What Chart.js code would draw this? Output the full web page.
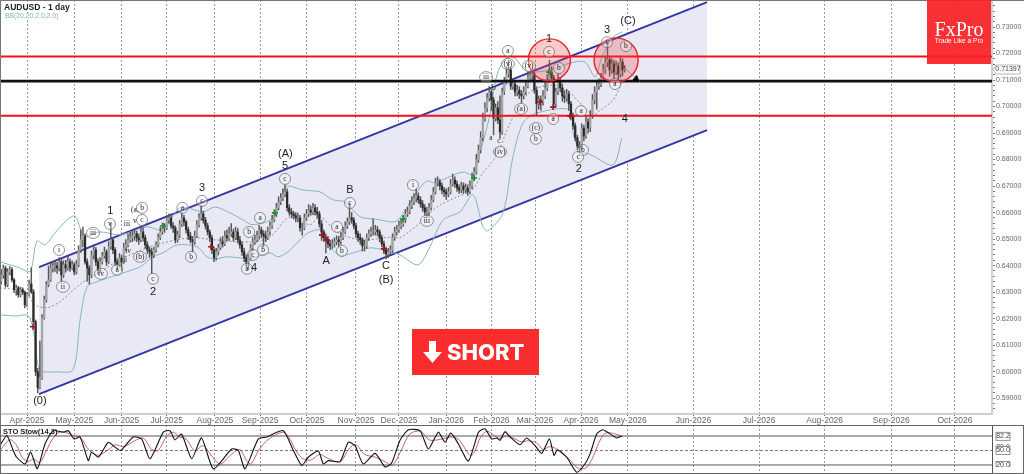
<!DOCTYPE html>
<html>
<head>
<meta charset="utf-8">
<title>AUDUSD - 1 day</title>
<script src="https://cdn.jsdelivr.net/npm/chart.js@4"></script>
<style>
  html, body { margin: 0; background: #fff; }
  #page { position: relative; width: 1024px; height: 474px; overflow: hidden; font-family: "Liberation Sans", sans-serif; }
  canvas { position: absolute; left: 0; }
  .frame { position: absolute; pointer-events: none; box-sizing: border-box; }
  .note { position: absolute; white-space: nowrap; background: #fff; line-height: 1; }
  #logo { position: absolute; left: 927px; top: 0; width: 64px; height: 64px; background: rgba(249, 30, 35, 0.92); color: #fff; text-align: center; }
  #logo b { position: absolute; left: 0; right: 0; top: 18px; font: 20px "Liberation Serif", serif; }
  #logo i { position: absolute; left: 0; right: 0; top: 37px; font: normal 6.6px "Liberation Sans", sans-serif; }
  #short { position: absolute; left: 412px; top: 329px; width: 127px; height: 46px; background: #f92c2e; color: #fff; font: 800 22px Inter, sans-serif; }
  #short span { position: absolute; left: 35px; top: 10px; line-height: 26px; }
  #short svg { position: absolute; left: 11px; top: 12px; }
</style>
</head>
<body>
<div id="page">
  <canvas id="price-chart" width="1024" height="425" style="top:0"></canvas>
  <canvas id="sto-chart" width="1024" height="49" style="top:425px"></canvas>
  <div class="frame" style="left:0;top:0;width:1024px;height:425px;border-top:1px solid #777;border-left:1px solid #777"></div>
  <div class="frame" style="left:0;top:425px;width:1024px;height:49px;border:1px solid #666"></div>
  <div class="note" style="left:4px;top:3px;font-size:8.5px;font-weight:bold;color:#222">AUDUSD - 1 day</div>
  <div class="note" style="left:5px;top:13px;font-size:6.8px;color:#7fb5bd">BB(20,20,2.0,2.0)</div>
  <div class="note" style="left:3px;top:428px;font-size:7.5px;font-weight:bold;color:#222;background:none">STO Slow(14,3)</div>
  <div id="logo"><b>FxPro</b><i>Trade Like a Pro</i></div>
  <div id="short">
    <svg width="19" height="22" viewBox="0 0 19 22"><path d="M6 0h7v11h6L9.500 22 0 11h6z" fill="#fff"/></svg>
    <span>SHORT</span>
  </div>
</div>
<script>
// AUDUSD daily bars. Bar 0 is the first bar of Apr-2025.
const firstBar = -12;
const barOpen = [
  .6340,.6364,.6390,.6327,.6376,.6384,.6346,.6309,.6316,.6290,
  .6309,.6299,.6252,.6290,.6331,.6301,.6188,.6000,.5939,.5977,
  .6203,.6271,.6327,.6346,.6391,.6399,.6399,.6391,.6414,.6365,
  .6403,.6391,.6414,.6391,.6403,.6376,.6403,.6459,.6497,.6512,
  .6414,.6391,.6365,.6440,.6459,.6414,.6384,.6414,.6437,.6452,
  .6414,.6472,.6497,.6459,.6414,.6403,.6429,.6414,.6467,.6478,
  .6497,.6505,.6512,.6520,.6505,.6497,.6527,.6505,.6478,.6459,
  .6452,.6440,.6459,.6478,.6505,.6527,.6542,.6542,.6572,.6580,
  .6550,.6542,.6497,.6516,.6557,.6580,.6565,.6535,.6512,.6497,
  .6490,.6512,.6554,.6580,.6595,.6572,.6550,.6527,.6505,.6459,
  .6429,.6452,.6467,.6490,.6482,.6512,.6505,.6520,.6527,.6505,
  .6527,.6497,.6478,.6452,.6429,.6414,.6429,.6467,.6490,.6497,
  .6512,.6535,.6520,.6512,.6505,.6527,.6550,.6572,.6595,.6618,
  .6640,.6655,.6670,.6678,.6618,.6602,.6595,.6588,.6580,.6580,
  .6542,.6542,.6580,.6595,.6610,.6602,.6618,.6602,.6595,.6557,
  .6527,.6505,.6497,.6482,.6475,.6482,.6490,.6497,.6490,.6505,
  .6527,.6550,.6565,.6580,.6572,.6550,.6520,.6505,.6497,.6474,
  .6474,.6505,.6520,.6527,.6527,.6535,.6527,.6505,.6482,.6459,
  .6444,.6452,.6459,.6505,.6527,.6535,.6550,.6557,.6572,.6595,
  .6602,.6625,.6640,.6655,.6663,.6648,.6633,.6618,.6602,.6602,
  .6618,.6648,.6678,.6712,.6716,.6701,.6685,.6678,.6670,.6678,
  .6708,.6723,.6708,.6693,.6685,.6701,.6685,.6693,.6678,.6701,
  .6731,.6753,.6799,.6836,.6882,.6957,.6995,.7032,.7055,.7025,
  .6957,.6995,.6949,.6904,.7055,.7092,.7123,.7138,.7077,.7085,
  .7055,.7062,.7047,.7040,.7055,.7077,.7108,.7115,.7123,.7062,
  .7010,.7025,.7017,.7040,.7070,.7100,.7130,.7108,.7010,.7055,
  .7092,.7070,.7040,.7032,.7047,.7010,.6964,.6927,.6882,.6851,
  .6844,.6919,.6889,.6942,.6919,.6964,.7025,.7055,.7078,.7085,
  .7108,.7138,.7168,.7176,.7138,.7161,.7130,.7153,.7123,.7168,
  .7138
];
const barHigh = [
  .6385,.6402,.6398,.6388,.6396,.6392,.6352,.6326,.6322,.6318,
  .6316,.6305,.6298,.6345,.6392,.6310,.6195,.6012,.6115,.6215,
  .6285,.6340,.6398,.6408,.6415,.6418,.6412,.6430,.6425,.6418,
  .6420,.6438,.6425,.6418,.6412,.6420,.6475,.6535,.6545,.6520,
  .6425,.6400,.6455,.6478,.6468,.6425,.6430,.6450,.6470,.6460,
  .6490,.6560,.6505,.6468,.6425,.6445,.6440,.6485,.6498,.6520,
  .6525,.6530,.6538,.6530,.6520,.6548,.6542,.6515,.6490,.6470,
  .6465,.6470,.6490,.6520,.6545,.6560,.6558,.6590,.6595,.6590,
  .6562,.6550,.6530,.6570,.6598,.6590,.6572,.6545,.6525,.6510,
  .6530,.6570,.6596,.6625,.6605,.6582,.6560,.6535,.6515,.6470,
  .6465,.6480,.6505,.6510,.6530,.6535,.6545,.6558,.6538,.6545,
  .6540,.6510,.6490,.6465,.6440,.6445,.6480,.6505,.6515,.6530,
  .6552,.6545,.6532,.6530,.6545,.6565,.6590,.6610,.6635,.6660,
  .6672,.6690,.6705,.6690,.6630,.6615,.6605,.6600,.6598,.6590,
  .6560,.6595,.6612,.6630,.6625,.6635,.6630,.6620,.6605,.6570,
  .6535,.6520,.6510,.6495,.6498,.6505,.6512,.6510,.6525,.6545,
  .6565,.6580,.6635,.6600,.6582,.6560,.6530,.6520,.6505,.6495,
  .6520,.6535,.6545,.6575,.6552,.6548,.6535,.6515,.6492,.6470,
  .6465,.6475,.6520,.6545,.6552,.6568,.6575,.6590,.6612,.6620,
  .6645,.6660,.6672,.6690,.6675,.6660,.6645,.6630,.6620,.6635,
  .6665,.6695,.6730,.6735,.6725,.6712,.6695,.6690,.6695,.6725,
  .6745,.6735,.6720,.6705,.6715,.6712,.6708,.6705,.6720,.6750,
  .6770,.6820,.6855,.6905,.6975,.7015,.7050,.7075,.7065,.7035,
  .7010,.7020,.7040,.7070,.7110,.7150,.7175,.7148,.7105,.7095,
  .7080,.7075,.7060,.7075,.7095,.7130,.7135,.7140,.7130,.7075,
  .7040,.7040,.7060,.7090,.7120,.7175,.7150,.7118,.7070,.7125,
  .7110,.7085,.7060,.7065,.7058,.7020,.6975,.6938,.6892,.6868,
  .6935,.6930,.6962,.6955,.6985,.7045,.7075,.7100,.7105,.7125,
  .7160,.7190,.7245,.7190,.7180,.7175,.7172,.7165,.7190,.7180,
  .7155
];
const barLow = [
  .6330,.6352,.6318,.6320,.6365,.6338,.6298,.6288,.6280,.6282,
  .6290,.6240,.6246,.6285,.6295,.6180,.5985,.5920,.5935,.5970,
  .6198,.6262,.6320,.6340,.6375,.6378,.6370,.6380,.6340,.6355,
  .6375,.6382,.6378,.6385,.6365,.6368,.6395,.6450,.6470,.6405,
  .6340,.6330,.6355,.6425,.6400,.6368,.6375,.6405,.6428,.6400,
  .6408,.6462,.6445,.6400,.6385,.6395,.6380,.6408,.6455,.6470,
  .6488,.6490,.6495,.6490,.6480,.6490,.6492,.6465,.6445,.6430,
  .6370,.6430,.6450,.6470,.6498,.6518,.6525,.6535,.6560,.6540,
  .6525,.6485,.6488,.6505,.6548,.6550,.6522,.6498,.6485,.6452,
  .6480,.6505,.6545,.6570,.6560,.6538,.6515,.6490,.6445,.6415,
  .6420,.6440,.6460,.6470,.6475,.6492,.6495,.6510,.6492,.6498,
  .6485,.6465,.6438,.6415,.6395,.6385,.6420,.6455,.6480,.6488,
  .6500,.6505,.6470,.6490,.6498,.6515,.6540,.6565,.6585,.6610,
  .6630,.6645,.6660,.6605,.6590,.6580,.6575,.6565,.6565,.6530,
  .6515,.6535,.6570,.6585,.6590,.6592,.6590,.6580,.6545,.6495,
  .6490,.6448,.6468,.6460,.6465,.6470,.6478,.6470,.6480,.6498,
  .6520,.6540,.6555,.6560,.6538,.6505,.6490,.6480,.6455,.6455,
  .6465,.6495,.6510,.6515,.6515,.6512,.6490,.6470,.6445,.6425,
  .6430,.6440,.6450,.6495,.6515,.6525,.6538,.6548,.6562,.6585,
  .6595,.6615,.6630,.6640,.6635,.6620,.6605,.6590,.6585,.6590,
  .6610,.6640,.6670,.6700,.6685,.6670,.6660,.6650,.6660,.6670,
  .6700,.6695,.6680,.6672,.6675,.6672,.6675,.6665,.6670,.6690,
  .6720,.6745,.6790,.6825,.6870,.6945,.6980,.7020,.6985,.6893,
  .6945,.6935,.6880,.6895,.7045,.7085,.7110,.7065,.7065,.7040,
  .7040,.7030,.7015,.7030,.7045,.7070,.7095,.7100,.7050,.6965,
  .6990,.6985,.7005,.7030,.7060,.7090,.7095,.6995,.7000,.7045,
  .7055,.7020,.7015,.7020,.6985,.6950,.6915,.6870,.6838,.6825,
  .6838,.6870,.6880,.6900,.6905,.6955,.7010,.6990,.7065,.7075,
  .7095,.7125,.7150,.7115,.7125,.7105,.7120,.7100,.7110,.7115,
  .7130
];
const barClose = [
  .6364,.6390,.6327,.6376,.6384,.6346,.6309,.6316,.6290,.6309,
  .6299,.6252,.6290,.6331,.6301,.6188,.6000,.5939,.5977,.6203,
  .6271,.6327,.6346,.6391,.6399,.6399,.6391,.6414,.6365,.6403,
  .6391,.6414,.6391,.6403,.6376,.6403,.6459,.6497,.6512,.6414,
  .6391,.6365,.6440,.6459,.6414,.6384,.6414,.6437,.6452,.6414,
  .6472,.6497,.6459,.6414,.6403,.6429,.6414,.6467,.6478,.6497,
  .6505,.6512,.6520,.6505,.6497,.6527,.6505,.6478,.6459,.6452,
  .6440,.6459,.6478,.6505,.6527,.6542,.6542,.6572,.6580,.6550,
  .6542,.6497,.6516,.6557,.6580,.6565,.6535,.6512,.6497,.6490,
  .6512,.6554,.6580,.6595,.6572,.6550,.6527,.6505,.6459,.6429,
  .6452,.6467,.6490,.6482,.6512,.6505,.6520,.6527,.6505,.6527,
  .6497,.6478,.6452,.6429,.6414,.6429,.6467,.6490,.6497,.6512,
  .6535,.6520,.6512,.6505,.6527,.6550,.6572,.6595,.6618,.6640,
  .6655,.6670,.6678,.6618,.6602,.6595,.6588,.6580,.6580,.6542,
  .6542,.6580,.6595,.6610,.6602,.6618,.6602,.6595,.6557,.6527,
  .6505,.6497,.6482,.6475,.6482,.6490,.6497,.6490,.6505,.6527,
  .6550,.6565,.6580,.6572,.6550,.6520,.6505,.6497,.6474,.6474,
  .6505,.6520,.6527,.6527,.6535,.6527,.6505,.6482,.6459,.6444,
  .6452,.6459,.6505,.6527,.6535,.6550,.6557,.6572,.6595,.6602,
  .6625,.6640,.6655,.6663,.6648,.6633,.6618,.6602,.6602,.6618,
  .6648,.6678,.6712,.6716,.6701,.6685,.6678,.6670,.6678,.6708,
  .6723,.6708,.6693,.6685,.6701,.6685,.6693,.6678,.6701,.6731,
  .6753,.6799,.6836,.6882,.6957,.6995,.7032,.7055,.7025,.6957,
  .6995,.6949,.6904,.7055,.7092,.7123,.7138,.7077,.7085,.7055,
  .7062,.7047,.7040,.7055,.7077,.7108,.7115,.7123,.7062,.7010,
  .7025,.7017,.7040,.7070,.7100,.7130,.7108,.7010,.7055,.7092,
  .7070,.7040,.7032,.7047,.7010,.6964,.6927,.6882,.6851,.6844,
  .6919,.6889,.6942,.6919,.6964,.7025,.7055,.7078,.7085,.7108,
  .7138,.7168,.7176,.7138,.7161,.7130,.7153,.7123,.7168,.7138,
  .71397
];

// Bollinger bands, sampled along the drawn curves
const bbUpperBar = [-12.6,-4.7,1.4,2.3,4.7,8.4,13,18.6,22.3,24.7,26,34,43.3,55.8,63.3,71.2,81.9,87.4,94.4,100.5,105.1,114.4,120.5,128.4,136.3,142.3,147.9,154.9,161.9,171.2,174.4,181.4,186,189.8,195.3,202.8,207.4,209.8,215.3,217.7,220,223.7,227,230.7,234,243.3,252.6,259.5,264.2,267.4,272.6,276.7];
const bbUpper = [.6414,.6395,.6376,.6395,.6493,.6478,.6523,.6572,.6587,.6542,.6508,.6527,.6516,.6546,.6535,.6618,.6603,.6621,.6599,.6572,.6554,.6580,.6697,.6685,.6678,.6648,.6640,.6584,.6576,.6565,.6591,.6678,.6719,.6712,.6731,.6753,.6742,.6799,.6968,.7089,.7149,.7187,.7183,.7145,.7130,.7138,.7164,.7168,.7112,.7187,.7262,.7281];
const bbMiddleBar = [-12.6,-0.9,3.7,9.3,15.3,20,25.6,34,43.3,57.2,75.8,87.4,103.7,113,122.3,131.6,136.3,144.2,154.9,170.2,173.5,182.8,190.7,200,207,212.1,218.6,223.3,227.9,234,243.3,251.2,257.2,263.3,265.6,272.6,277.2];
const bbMiddle = [.6316,.6301,.6252,.6241,.6263,.6297,.6335,.6376,.6422,.6471,.6505,.6497,.6489,.6508,.6584,.6554,.6584,.6527,.6497,.6508,.6505,.6561,.6621,.6659,.6685,.6750,.6817,.6912,.6987,.7055,.7081,.7062,.7013,.6968,.6980,.7025,.7100];
const bbLowerBar = [-12.6,-4.7,-0.9,1.4,3.7,6,14,21.4,24.7,27.9,32.6,41.9,52.6,58.6,63.3,69.8,79.1,83.7,87.4,93,99.1,105.1,113,116.7,121.4,126,130.7,137.7,139.5,145.6,153.5,159.5,165.6,173.5,181.9,187.4,193.5,201.4,207.4,212.1,214.4,221.4,226,230.7,237.2,252.6,254,257.2,263.3,272.6,276.7];
const bbLower = [.6214,.6210,.6214,.6203,.6120,.6007,.5999,.6007,.6195,.6320,.6339,.6365,.6395,.6433,.6448,.6478,.6471,.6433,.6425,.6433,.6429,.6429,.6448,.6433,.6452,.6489,.6523,.6535,.6486,.6440,.6452,.6467,.6459,.6440,.6403,.6471,.6572,.6603,.6667,.6546,.6531,.6599,.6810,.6938,.6976,.6987,.6900,.6836,.6814,.6780,.6882];

// Trend channel and horizontal levels
const channelBar = [5.6, 316.3];
const channelUpper = [.6394, .7394];
const channelLower = [.5915, .6911];
const resistanceLevel = .7189;
const pivotLevel = .7096;
const supportLevel = .6965;
const lastPrice = .71397;

// Month ticks along the time axis
const monthBars = [0,22,44,65,87.4,108.4,130.2,153,173,195,216,236.3,257.7,279.5,310,340.5,371,402,431.6];
const monthLabels = ["Apr-2025","May-2025","Jun-2025","Jul-2025","Aug-2025","Sep-2025","Oct-2025","Nov-2025","Dec-2025","Jan-2026","Feb-2026","Mar-2026","Apr-2026","May-2026","Jun-2026","Jul-2026","Aug-2026","Sep-2026","Oct-2026"];
const priceLabels = ["0.59000","0.60000","0.61000","0.62000","0.63000","0.64000","0.65000","0.66000","0.67000","0.68000","0.69000","0.70000","0.71000","0.72000","0.73000"];

// Signal marks and highlighted zones
const buyBar = [63.3, 115.3, 174.9, 207.9, 242.8];
const buyPrice = [.6550, .6599, .6576, .6731, .7130];
const sellBar = [2.8, 85.6, 137.2, 139.5, 166, 238.6, 244.7, 252.6];
const sellPrice = [.6169, .6471, .6516, .6497, .6463, .7017, .6998, .6964];
const zoneBar = [243, 274];
const zonePrice = [.7176, .7176];
const forecastBar = [278.1, 285.1];
const forecastPrice = [.7145, .7093];

// Elliott wave labels
const mainWaveText = ["(A)","5","3","1","2","4","A","B","C","(B)","(0)","2","4","1","3","(C)"];
const mainWaveBar = [120.2,120,81.4,38.8,58.6,105.6,139.1,150.2,167,167,6,256.7,278.1,242.8,269.8,279.5];
const mainWavePrice = [.6821,.6776,.6693,.6606,.6301,.6391,.6418,.6685,.6399,.6346,.5890,.6765,.6953,.7255,.7289,.7323];
const ringWaveText = ["c","c","a","v","b","c","iii","a","b","i","ii","iv","a","(b)","c","b","a","c","b","a","b","c","i","iii","(iv)","(a)","(c)","b","a","a","b","c","iii","a","(v)","(v)","c","b","c","b","a"];
const ringWaveBar = [120,81.4,72.3,38.6,53.5,53.5,30.7,108.4,103.3,14.9,16.7,34.4,41.9,52.6,58.6,76.3,102.3,105.1,109.8,144.2,146.5,150.2,179.5,186,220,229.8,236.7,236.7,244.7,257.7,258.6,256.3,213.5,223.7,223.7,233.5,242.8,247.4,269.8,278.6,273.5];
const ringWavePrice = [.6727,.6644,.6618,.6557,.6618,.6572,.6523,.6580,.6527,.6459,.6320,.6369,.6384,.6433,.6350,.6433,.6388,.6440,.6459,.6546,.6455,.6636,.6704,.6569,.6829,.6991,.6919,.6878,.6953,.6983,.6836,.6810,.7111,.7210,.7161,.7153,.7206,.7145,.7243,.7228,.7085];
const minorWaveText = ["iii","(a,","v","iv","ii","a","c","b"];
const minorWaveBar = [46.5,50.2,50.2,47,45.6,215.8,219.5,217.2];
const minorWavePrice = [.6557,.6610,.6569,.6456,.6422,.6882,.6870,.7070];

// Stochastic oscillator
const stoKBar = [-12.6,-9.4,-6.4,-4.8,-0.9,1.7,4.8,8.4,12.2,16.9,19.2,21.9,24.7,28.5,30.1,33.2,37.8,40.9,43.6,49.4,53.3,57.2,63.4,66.5,68.8,71.9,76.6,81.2,86.7,95.2,98.3,101.4,107.6,111.5,119.2,123.9,127.8,130.8,135.5,137.8,140.2,145.6,149.4,152.6,156.4,161.9,166.5,169.6,173.5,177.4,182.8,186.7,191.3,194.4,197.1,200.6,205.3,210,213,216.1,218.5,220,222.3,224.7,229.3,232.4,236.3,239.4,243,245.1,246.7,251,255.7,259.5,261.9,265,267.8,274.3,276.6];
const stoK = [60,81,50,36,22,47,12,64,91,88,91,74,78,29,47,36,67,57,50,78,74,33,88,91,72,84,33,76,12,53,50,12,74,78,91,50,19,36,49,22,29,27,67,60,22,44,16,24,71,93,91,53,88,67,86,64,28,88,95,74,76,71,89,78,62,76,60,44,74,40,51,36,5,22,43,84,93,76,80];
const stoDBar = [-12.6,-8,-5,-2,1,3,6,9,12,15,19,22,25,29,33,38,41,45,50,54,58,61,65,68,71,74,78,82,86,90,95,99,102,104,108,112,119,122,125,128,132,136,139,143,146,150,153,157,162,166,170,174,178,183,187,191,195,198,201,206,208,211,214,217,220,223,226,230,233,237,240,243,246,249,253,256,260,263,266,269,274,277];
const stoD = [50,72,62,34,28,32,25,50,75,88,86,80,76,50,40,52,62,58,70,76,52,50,80,88,78,74,50,60,38,22,42,52,30,22,52,72,88,76,50,34,30,42,36,28,27,55,62,42,36,28,20,50,84,90,72,72,76,78,72,40,46,78,90,82,75,80,76,68,70,66,52,58,54,46,28,14,14,34,66,86,84,78];
const stoLevels = [20, 50, 80];
const stoTagText = ["82.2", "80.0", "50.0", "20.0"];
const stoTagValue = [79.4, 58, 50, 19];

const pairs = (xs, ys) => xs.map((x, i) => ({ x, y: ys[i] }));
const xMin = -12.56;
const xMax = 448.84;
const gridColor = "#9a9a9a";

// Keep the plot flush with the canvas edges: no room reserved for overhanging labels
function noOverhang(scale) {
  scale.paddingLeft = 0;
  scale.paddingRight = 0;
  scale.paddingTop = 0;
  scale.paddingBottom = 0;
}

function timeScale(showLabels) {
  return {
    type: "linear",
    min: xMin,
    max: xMax,
    offset: false,
    afterBuildTicks(scale) {
      scale.ticks = monthBars.map((value) => ({ value }));
    },
    afterFit(scale) {
      scale.height = showLabels ? 11 : 0;
      noOverhang(scale);
    },
    grid: { color: gridColor, offset: false, tickLength: showLabels ? 2 : 0, tickColor: "#666" },
    border: { color: "#cfcfcf", width: showLabels ? 2 : 0, dash: [2, 2] },
    ticks: {
      display: showLabels,
      autoSkip: false,
      maxRotation: 0,
      padding: 0,
      color: "#666",
      font: { family: "Liberation Sans", size: 8.5 },
      callback: (value, i) => monthLabels[i],
    },
  };
}

function bandLine(xs, ys, dashed) {
  return {
    type: "line",
    data: pairs(xs, ys),
    borderColor: dashed ? "#666" : "#84b6be",
    borderWidth: dashed ? 0.7 : 1,
    borderDash: dashed ? [2, 2] : [],
    pointRadius: 0,
    tension: 0.3,
    order: 40,
  };
}

function levelLine(price, color, width) {
  return {
    type: "line",
    data: pairs([xMin, xMax], [price, price]),
    borderColor: color,
    borderWidth: width,
    pointRadius: 0,
    order: 20,
  };
}

function signalMarks(xs, ys, color) {
  return {
    type: "line",
    showLine: false,
    data: pairs(xs, ys),
    pointStyle: "cross",
    pointRadius: 3,
    pointBorderWidth: 1.6,
    pointBorderColor: color,
    order: 5,
  };
}

// Ring, plain and small serif wave labels, plus the last price tag
const waveLabels = {
  id: "waveLabels",
  afterDatasetsDraw(chart) {
    const { ctx, scales } = chart;
    ctx.save();
    ctx.textAlign = "center";
    ctx.textBaseline = "middle";

    ringWaveText.forEach((text, i) => {
      const x = scales.x.getPixelForValue(ringWaveBar[i]);
      const y = scales.y.getPixelForValue(ringWavePrice[i]);
      ctx.beginPath();
      ctx.ellipse(x, y, text.length > 1 ? 6.5 : 5.5, 5.5, 0, 0, Math.PI * 2);
      ctx.fillStyle = "rgba(255,255,255,0.3)";
      ctx.fill();
      ctx.strokeStyle = "#666";
      ctx.lineWidth = 0.7;
      ctx.stroke();
      ctx.fillStyle = "#222";
      ctx.font = "7.5px 'Liberation Serif'";
      ctx.fillText(text, x, y);
    });

    ctx.fillStyle = "#222";
    ctx.font = "11px 'Liberation Sans'";
    mainWaveText.forEach((text, i) => {
      ctx.fillText(text, scales.x.getPixelForValue(mainWaveBar[i]), scales.y.getPixelForValue(mainWavePrice[i]));
    });

    ctx.font = "7.5px 'Liberation Serif'";
    minorWaveText.forEach((text, i) => {
      ctx.fillText(text, scales.x.getPixelForValue(minorWaveBar[i]), scales.y.getPixelForValue(minorWavePrice[i]));
    });

    // last price tag on the axis
    const tagY = scales.y.getPixelForValue(lastPrice);
    ctx.beginPath();
    ctx.moveTo(993, tagY);
    ctx.lineTo(996, tagY - 4.5);
    ctx.lineTo(1020, tagY - 4.5);
    ctx.lineTo(1020, tagY + 4.5);
    ctx.lineTo(996, tagY + 4.5);
    ctx.closePath();
    ctx.fillStyle = "#fff";
    ctx.fill();
    ctx.strokeStyle = "#999";
    ctx.stroke();
    ctx.fillStyle = "#444";
    ctx.font = "7px 'Liberation Sans'";
    ctx.fillText(lastPrice.toFixed(5), 1008, tagY);
    ctx.restore();
  },
};

// Boxed values beside the oscillator, cut off at the axis end like the original
const stoTags = {
  id: "stoTags",
  afterDatasetsDraw(chart) {
    const { ctx, scales } = chart;
    ctx.save();
    ctx.beginPath();
    ctx.rect(992, 0, 32, 42);
    ctx.clip();
    ctx.textAlign = "center";
    ctx.textBaseline = "middle";
    ctx.font = "7px 'Liberation Sans'";
    stoTagText.forEach((text, i) => {
      const y = scales.y.getPixelForValue(stoTagValue[i]);
      if (text !== "80.0") {
        ctx.fillStyle = "#fff";
        ctx.fillRect(996, y - 4, 14, 8);
        ctx.strokeStyle = "#777";
        ctx.lineWidth = 0.8;
        ctx.strokeRect(996, y - 4, 14, 8);
      }
      ctx.fillStyle = "#444";
      ctx.fillText(text, 1003, y);
    });
    ctx.restore();
  },
};

new Chart(document.getElementById("price-chart"), {
  type: "bar",
  plugins: [waveLabels],
  data: {
    datasets: [
      {
        type: "line",
        data: pairs(channelBar, channelUpper),
        borderColor: "#3535a5",
        borderWidth: 2,
        pointRadius: 0,
        fill: "+1",
        backgroundColor: "#e8e9f5",
        order: 50,
      },
      {
        type: "line",
        data: pairs(channelBar, channelLower),
        borderColor: "#3535a5",
        borderWidth: 2,
        pointRadius: 0,
        order: 49,
      },
      bandLine(bbUpperBar, bbUpper, false),
      bandLine(bbLowerBar, bbLower, false),
      bandLine(bbMiddleBar, bbMiddle, true),
      {
        type: "bar",
        grouped: false,
        data: barLow.map((low, i) => ({ x: firstBar + i, y: [low, barHigh[i]] })),
        backgroundColor: "#555",
        barThickness: 0.8,
        order: 31,
      },
      {
        type: "bar",
        grouped: false,
        data: barOpen.map((open, i) => ({ x: firstBar + i, y: [open, barClose[i]] })),
        backgroundColor: barOpen.map((open, i) => (barClose[i] >= open ? "#a4a4a4" : "#2a2a2a")),
        barThickness: 1.6,
        order: 30,
      },
      levelLine(resistanceLevel, "#f21218", 2),
      levelLine(pivotLevel, "#111", 2.6),
      levelLine(supportLevel, "#f21218", 2),
      {
        type: "line",
        showLine: false,
        data: pairs(zoneBar, zonePrice),
        pointRadius: [21, 22],
        pointBackgroundColor: "rgba(238,70,70,0.28)",
        pointBorderColor: "#ee2126",
        pointBorderWidth: 1.4,
        order: 10,
      },
      signalMarks(buyBar, buyPrice, "#1d8f2e"),
      signalMarks(sellBar, sellPrice, "#a5141c"),
      {
        type: "line",
        data: pairs(forecastBar, forecastPrice),
        borderColor: "#888",
        borderWidth: 0.8,
        pointRadius: [0, 0],
        order: 6,
      },
      {
        type: "line",
        showLine: false,
        data: pairs([283.3], [.7104]),
        pointStyle: "triangle",
        pointRotation: 130,
        pointRadius: 3.5,
        pointBackgroundColor: "#000",
        pointBorderColor: "#000",
        order: 4,
      },
    ],
  },
  options: {
    responsive: false,
    animation: false,
    layout: { padding: 0, autoPadding: false },
    plugins: { legend: { display: false }, tooltip: { enabled: false } },
    scales: {
      x: timeScale(true),
      y: {
        type: "linear",
        position: "right",
        min: 0.584,
        max: 0.7402,
        afterBuildTicks(scale) {
          const ticks = [];
          for (let k = 586; k <= 738; k += 2) ticks.push({ value: k / 1000 });
          scale.ticks = ticks;
        },
        afterFit(scale) {
          scale.width = 32;
          noOverhang(scale);
        },
        grid: { drawOnChartArea: false, tickLength: 3, tickColor: "#777" },
        border: { color: "#d0d0d0", width: 2 },
        ticks: {
          autoSkip: false,
          padding: 1,
          color: "#666",
          font: { family: "Liberation Sans", size: 7 },
          callback: (value) => (priceLabels.includes(value.toFixed(5)) ? value.toFixed(5) : ""),
        },
      },
    },
  },
});

new Chart(document.getElementById("sto-chart"), {
  type: "line",
  plugins: [stoTags],
  data: {
    datasets: [
      {
        data: pairs(stoKBar, stoK),
        borderColor: "#111",
        borderWidth: 1.1,
        pointRadius: 0,
        tension: 0.2,
        order: 1,
      },
      {
        data: pairs(stoDBar, stoD),
        borderColor: "#b5403c",
        borderWidth: 0.8,
        pointRadius: 0,
        tension: 0.3,
        order: 2,
      },
      ...stoLevels.map((level) => ({
        data: pairs([xMin, xMax], [level, level]),
        borderColor: "#555",
        borderWidth: level === 50 ? 0.8 : 1,
        borderDash: level === 50 ? [3, 2] : [],
        pointRadius: 0,
        order: 3,
      })),
    ],
  },
  options: {
    responsive: false,
    animation: false,
    layout: { padding: { bottom: 1 }, autoPadding: false },
    plugins: { legend: { display: false }, tooltip: { enabled: false } },
    scales: {
      x: timeScale(false),
      y: {
        type: "linear",
        position: "right",
        min: 3.4,
        max: 102.8,
        afterFit(scale) {
          scale.width = 32;
          noOverhang(scale);
        },
        grid: { display: false },
        border: { color: "#555", width: 1 },
        ticks: { display: false },
      },
    },
  },
});
</script>
</body>
</html>
